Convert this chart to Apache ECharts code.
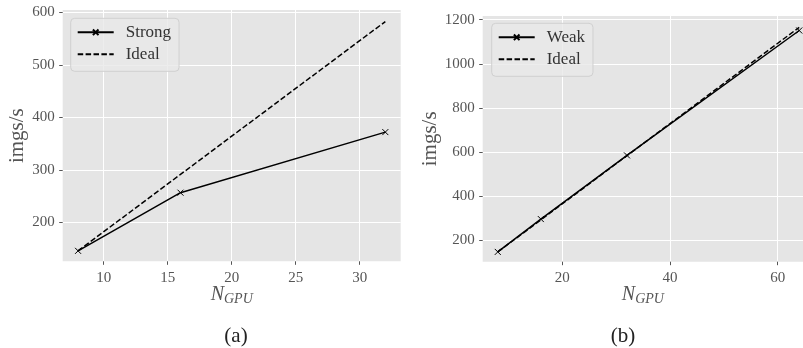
<!DOCTYPE html>
<html>
<head>
<meta charset="utf-8">
<script src="https://cdn.jsdelivr.net/npm/echarts@6/dist/echarts.min.js"></script>
<style>
html,body{margin:0;padding:0;background:#fff;}
#c{width:803px;height:348px;}
</style>
</head>
<body>
<div id="c"></div>
<script>
// Data
const strongN = [8, 16, 32];
const strongVals = [145.6, 256.4, 371.8];
const strongIdeal = [145.6, 291.2, 582.4];
const weakN = [8, 16, 32, 64];
const weakVals = [146, 295, 584, 1151];
const weakIdeal = [145.7, 291.4, 582.8, 1165.6];
const strongXTicks = [10, 15, 20, 25, 30];
const strongYTicks = [200, 300, 400, 500, 600];
const weakXTicks = [20, 40, 60];
const weakYTicks = [200, 400, 600, 800, 1000, 1200];

const FONT = '"Liberation Serif", "DejaVu Serif", serif';
const GRAY = '#555555';
const XSYM = 'path://M0,0 L10,10 M10,0 L0,10';

function pairs(xs, ys) { return xs.map((x, i) => [x, ys[i]]); }
const fmt = v => String(v);

function xAxis(idx, min, max, ticks) {
  return {
    type: 'value', gridIndex: idx, min: min, max: max,
    axisLine: {show: false},
    axisTick: {show: true, length: 3.5, lineStyle: {color: GRAY, width: 1}, customValues: ticks},
    axisLabel: {color: GRAY, fontFamily: FONT, fontSize: 15, margin: 9, formatter: fmt, customValues: ticks},
    splitLine: {show: true, lineStyle: {color: '#ffffff', width: 1}},
    name: '{n|N}{s|GPU}',
    nameLocation: 'middle', nameGap: 22, nameMoveOverlap: false,
    nameTextStyle: {
      rich: {
        n: {fontFamily: FONT, fontStyle: 'italic', fontSize: 20, color: GRAY},
        s: {fontFamily: FONT, fontStyle: 'italic', fontSize: 14, color: GRAY, padding: [9, 0, 0, 0]}
      }
    }
  };
}
function yAxis(idx, min, max, ticks, gap) {
  return {
    type: 'value', gridIndex: idx, min: min, max: max,
    axisLine: {show: false},
    axisTick: {show: true, length: 3.5, lineStyle: {color: GRAY, width: 1}, customValues: ticks},
    axisLabel: {color: GRAY, fontFamily: FONT, fontSize: 15, margin: 8, formatter: fmt, customValues: ticks},
    splitLine: {show: true, lineStyle: {color: '#ffffff', width: 1}},
    name: 'imgs/s', nameLocation: 'middle', nameGap: gap, nameRotate: 90,
    nameTextStyle: {fontFamily: FONT, fontSize: 21, color: GRAY}
  };
}
function lineSeries(name, idx, data, dashed, marker) {
  return {
    name: name, type: 'line', xAxisIndex: idx, yAxisIndex: idx,
    data: data,
    symbol: marker ? XSYM : 'none', symbolSize: 6, showSymbol: marker,
    itemStyle: {color: 'rgba(0,0,0,0)', borderColor: '#000', borderWidth: 1},
    lineStyle: {color: '#000', width: 1.5, type: dashed ? [5.5, 2.4] : 'solid'},
    emphasis: {disabled: true},
    animation: false, z: dashed ? 2 : 3
  };
}
function legend(names, left, top) {
  return {
    data: [{name: names[0]}, {name: names[1], itemStyle: {opacity: 0}}],
    orient: 'vertical', left: left, top: top,
    itemWidth: 36, itemHeight: 7, itemGap: 2,
    padding: [4, 8, 7, 6],
    backgroundColor: 'rgba(233,233,233,0.8)',
    borderColor: '#d0d0d0', borderWidth: 1, borderRadius: 4,
    textStyle: {fontFamily: FONT, fontSize: 17, lineHeight: 20, color: '#333', padding: [0, 0, 0, 7]},
    inactiveColor: '#000'
  };
}

const chart = echarts.init(document.getElementById('c'), null, {renderer: 'canvas'});
chart.setOption({
  animation: false,
  backgroundColor: '#ffffff',
  grid: [
    {left: 62.7, right: 402.3, top: 10, bottom: 86.7, show: true, backgroundColor: '#E5E5E5', borderWidth: 0},
    {left: 482.7, right: 0, top: 16, bottom: 86.3, show: true, backgroundColor: '#E5E5E5', borderWidth: 0}
  ],
  xAxis: [xAxis(0, 6.8, 33.2, strongXTicks), xAxis(1, 5.2, 64.7, weakXTicks)],
  yAxis: [yAxis(0, 125.7, 604.4, strongYTicks, 34), yAxis(1, 101.5, 1216.8, weakYTicks, 41)],
  legend: [legend(['Strong', 'Ideal '], 70.7, 18.3), legend(['Weak', 'Ideal'], 491.7, 23.3)],
  title: [
    {text: '(a)', left: 231, top: 321, textAlign: 'center', textStyle: {fontFamily: FONT, fontSize: 21, fontWeight: 'normal', color: '#222'}},
    {text: '(b)', left: 618, top: 321, textAlign: 'center', textStyle: {fontFamily: FONT, fontSize: 21, fontWeight: 'normal', color: '#222'}}
  ],
  series: [
    lineSeries('Strong', 0, pairs(strongN, strongVals), false, true),
    lineSeries('Ideal ', 0, pairs(strongN, strongIdeal), true, false),
    lineSeries('Weak', 1, pairs(weakN, weakVals), false, true),
    lineSeries('Ideal', 1, pairs(weakN, weakIdeal), true, false)
  ]
});
</script>
</body>
</html>
